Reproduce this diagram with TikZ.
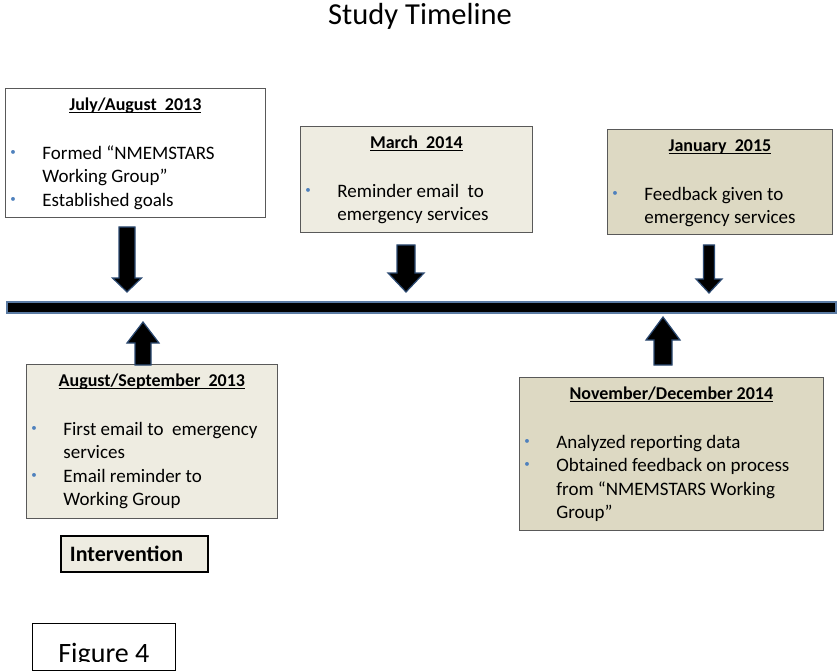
\documentclass[tikz,border=0pt]{standalone}
\usepackage{fontspec}
\setmainfont{Carlito}
\usetikzlibrary{calc}

\definecolor{tanlight}{HTML}{EEECE1}
\definecolor{tandark}{HTML}{DDD9C3}
\definecolor{boxedge}{HTML}{595959}
\definecolor{bulletblue}{HTML}{4F81BD}
\definecolor{arrowedge}{HTML}{2C4A72}
\definecolor{baredge}{HTML}{5B7BA3}

\newsavebox\ulbox
\newcommand\ultitle[1]{\sbox\ulbox{\fontsize{18}{20}\selectfont\bfseries #1}\usebox\ulbox\llap{\rule[-2.5pt]{\wd\ulbox}{0.9pt}}}
\newcommand\evhead[1]{\centering\rule{0pt}{22pt}\ultitle{#1}\par\vspace{25.5pt}\raggedright\fontsize{19}{23.5}\selectfont}
\newcommand\evitem{\par\noindent\hangindent=37pt\hangafter=1\makebox[37pt][l]{\hspace{5pt}\raisebox{4pt}{\textcolor{bulletblue}{\fontsize{11}{11}\selectfont\textbullet}}}}
% block arrow: start, tip, shaft half width, head half width, head length
\newcommand\tlarrow[5]{%
	\coordinate (hb) at ($(#2)!#5!(#1)$);
	\filldraw[blockarrow] ($(#1)!#3!90:(#2)$) -- ($(hb)!#3!90:(#2)$) -- ($(hb)!#4!90:(#2)$) -- (#2)
		-- ($(hb)!#4!-90:(#2)$) -- ($(hb)!#3!-90:(#2)$) -- ($(#1)!#3!-90:(#2)$) -- cycle;}

\begin{document}
\begin{tikzpicture}[x=1pt,y=-1pt,
	evbox/.style={draw=boxedge, line width=0.8pt, inner sep=0pt, anchor=north west},
	blockarrow/.style={fill=black, draw=arrowedge, line width=1.2pt, line join=miter}]
	\useasboundingbox (0,0) rectangle (838,671);
	%heading
		\node[anchor=base, font=\fontsize{30.5}{36}\selectfont] (title) at (420,25) {Study Timeline};
	%time line
		\node[draw=baredge, line width=2pt, fill=black, minimum width=829pt, minimum height=11pt, inner sep=0pt, anchor=north west] (bar) at (5.5,300.5) {};
	%boxes above the line
		\node[evbox, fill=white] (jul13) at (5,88) {\parbox[c][129pt][t]{260pt}{\evhead{July/August\ \ 2013}
			\evitem Formed “NMEMSTARS\newline Working Group”
			\evitem Established goals}};
		\node[evbox, fill=tanlight] (mar14) at (300,126) {\parbox[c][106pt][t]{232pt}{\evhead{March\ \ 2014}
			\evitem Reminder email\ \ to\newline emergency services}};
		\node[evbox, fill=tandark] (jan15) at (607,129) {\parbox[c][105pt][t]{225pt}{\evhead{January\ \ 2015}
			\evitem Feedback given to\newline emergency services}};
	%boxes below the line
		\node[evbox, fill=tanlight] (aug13) at (26,364) {\parbox[c][154pt][t]{251pt}{\evhead{August/September\ \ 2013}
			\evitem First email to\ \ emergency\newline services
			\evitem Email reminder to\newline Working Group}};
		\node[evbox, fill=tandark] (nov14) at (519,377) {\parbox[c][153pt][t]{304pt}{\evhead{November/December\ 2014}
			\evitem Analyzed reporting data
			\evitem Obtained feedback on process\newline from “NMEMSTARS Working\newline Group”}};
		\node[evbox, draw=black, line width=2.8pt, fill=tanlight] (interv) at (59.5,534.5) {\parbox[c][36pt][c]{147pt}{\hspace{9pt}\fontsize{22}{24}\selectfont\bfseries Intervention}};
	%figure label, bottom cut off
		\node[evbox, draw=black] (fig) at (32,623) {\parbox[c][47pt][t]{143pt}{\centering\fontsize{28}{32}\selectfont\rule{0pt}{39pt}Figure 4}};
		\fill[white] ($(fig.south west)+(1,-9)$) rectangle ($(fig.south east)+(-1,-1)$); %to hide the lower text
	%arrows to the line
		\coordinate (a1s) at (127,227); \coordinate (a1t) at (127,292);
		\coordinate (a2s) at (406,245); \coordinate (a2t) at (406,292);
		\coordinate (a3s) at (709,245); \coordinate (a3t) at (709,293);
		\coordinate (a4s) at (143,365); \coordinate (a4t) at (143,322);
		\coordinate (a5s) at (663,365); \coordinate (a5t) at (663,317);
		\tlarrow{a1s}{a1t}{8pt}{14.5pt}{14pt}
		\tlarrow{a2s}{a2t}{9pt}{18pt}{19pt}
		\tlarrow{a3s}{a3t}{5.5pt}{13pt}{14pt}
		\tlarrow{a4s}{a4t}{8pt}{16pt}{21pt}
		\tlarrow{a5s}{a5t}{9pt}{17pt}{23pt}
\end{tikzpicture}
\end{document}
